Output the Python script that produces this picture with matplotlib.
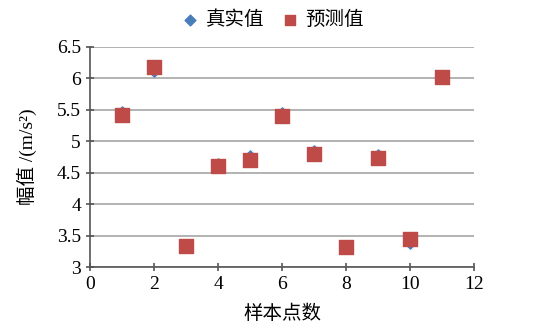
import matplotlib
matplotlib.use("Agg")
import matplotlib.pyplot as plt

plt.rcParams['font.family'] = ['Liberation Serif', 'Noto Sans CJK SC', 'DejaVu Sans']

samples = [1, 2, 3, 4, 5, 6, 7, 8, 9, 10, 11]
real = [5.48, 6.1, 3.3, 4.65, 4.78, 5.46, 4.86, 3.3, 4.8, 3.37, 6.0]
pred = [5.42, 6.18, 3.34, 4.61, 4.71, 5.4, 4.79, 3.32, 4.74, 3.44, 6.03]

fig = plt.figure(figsize=(5.54, 3.33), dpi=100)
ax = fig.add_axes([0.1625, 0.198, 0.6935, 0.661])

ax.scatter(samples, real, marker='D', s=22, color='#4a7ebb', label='真实值', zorder=3)
ax.scatter(samples, pred, marker='s', s=110, color='#be4b48', label='预测值', zorder=4)

ax.set_xlim(0, 12)
ax.set_ylim(3, 6.5)
ax.set_xticks(range(0, 13, 2))
ax.set_yticks([3, 3.5, 4, 4.5, 5, 5.5, 6, 6.5])
ax.set_yticklabels(['3', '3.5', '4', '4.5', '5', '5.5', '6', '6.5'])
ax.yaxis.grid(True, color='#a6a6a6', linewidth=1.2)
ax.set_axisbelow(True)

for s in ['top', 'right']:
    ax.spines[s].set_visible(False)
for s in ['left', 'bottom']:
    ax.spines[s].set_color('#555555')
    ax.spines[s].set_linewidth(1.2)
ax.tick_params(direction='inout', length=6, width=1.2, color='#555555', labelsize=14)

ax.set_xlabel('样本点数', fontsize=14, labelpad=8)
ax.set_ylabel('幅值 /(m/s²)', fontsize=14, labelpad=14)

leg = ax.legend(loc='lower center', bbox_to_anchor=(0.477, 1.0), ncol=2, frameon=False,
                fontsize=14, handlelength=0.8, handletextpad=0.4, columnspacing=0.9)
leg.legend_handles[0].set_sizes([30])
leg.legend_handles[1].set_sizes([45])

fig.savefig('out.png', dpi=100)
